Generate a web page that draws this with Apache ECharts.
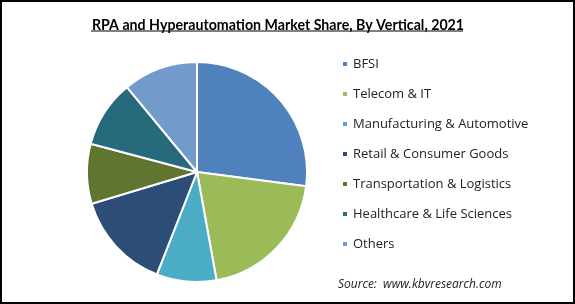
<!DOCTYPE html>
<html><head><meta charset="utf-8">
<script src="https://cdn.jsdelivr.net/npm/echarts@6/dist/echarts.min.js"></script>
<style>html,body{margin:0;padding:0;background:#fff}#c{width:575px;height:304px}</style>
</head><body><div id="c"></div>
<script>
const categories = ["BFSI","Telecom & IT","Manufacturing & Automotive","Retail & Consumer Goods","Transportation & Logistics","Healthcare & Life Sciences","Others"];
const shares = [27.1, 20.1, 8.8, 14.4, 8.8, 9.9, 11.0];
const colors = ["#4F81BD","#9BBB59","#4BACC6","#2C4D75","#5F7530","#276A7C","#729ACA"];
const titleText = "RPA and Hyperautomation Market Share, By Vertical, 2021";
const sourceText = "Source:  www.kbvresearch.com";

const chart = echarts.init(document.getElementById('c'), null, {renderer:'canvas'});
chart.setOption({
  animation:false,
  color: colors,
  title:{
    text:titleText, left:273, top:13, textAlign:'center',
    textStyle:{fontFamily:'Lato', fontWeight:'bold', fontSize:14.2, color:'#000'}
  },
  legend:{
    orient:'vertical', left:336, top:51, icon:'rect', itemWidth:6, itemHeight:6,
    itemGap:14, data:categories,
    textStyle:{fontFamily:'Open Sans', fontSize:13, color:'#222', lineHeight:16}
  },
  graphic:[
    {type:'rect', shape:{x:1,y:1,width:573,height:302}, style:{fill:null, stroke:'#000', lineWidth:2}, silent:true},
    {type:'line', shape:{x1:91,y1:31,x2:463,y2:31}, style:{stroke:'#000', lineWidth:1.2}, silent:true},
    {type:'text', left:338, top:279, style:{text:sourceText, font:'italic 12px "Open Sans"', fill:'#222'}}
  ],
  series:[{
    type:'pie', center:[197,172], radius:110, startAngle:90, clockwise:true,
    label:{show:false}, labelLine:{show:false},
    itemStyle:{borderColor:'#fff', borderWidth:2},
    data: categories.map((n,i)=>({name:n, value:shares[i]}))
  }]
});
</script></body></html>
